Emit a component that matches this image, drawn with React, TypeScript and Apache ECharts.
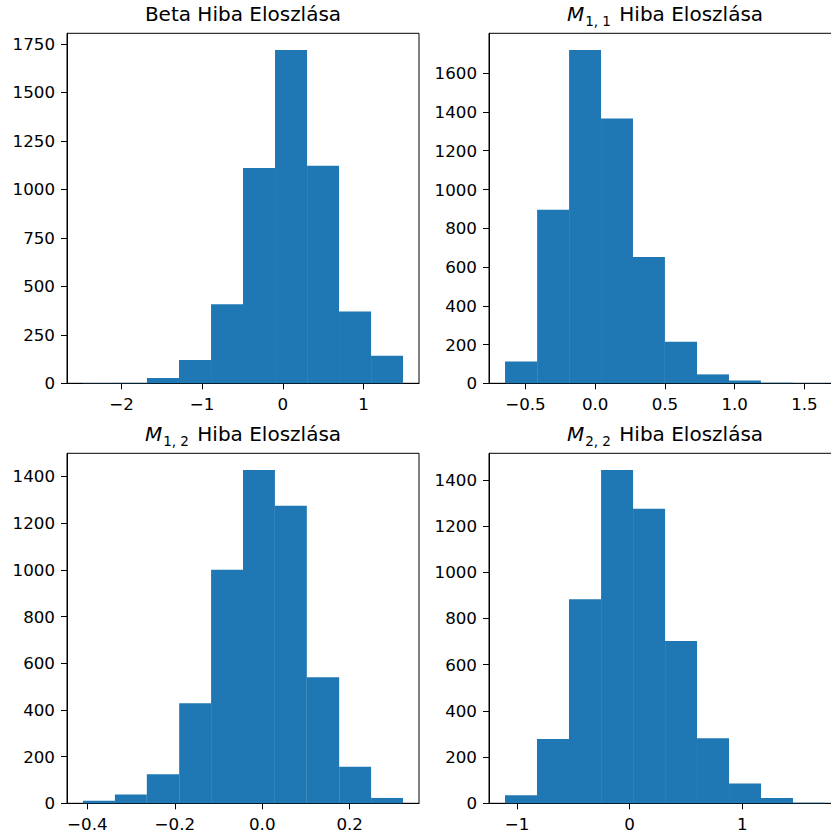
import React, { useEffect, useRef } from 'react';
import * as echarts from 'echarts';

// ---- Data (bin edges and counts, 10 bins each) ----
const betaEdges = [-2.477, -2.080, -1.684, -1.287, -0.890, -0.494, -0.097, 0.300, 0.696, 1.093, 1.489];
const betaCounts = [1, 2, 27, 120, 408, 1110, 1719, 1122, 370, 142];

const m11Edges = [-0.646, -0.416, -0.187, 0.042, 0.271, 0.500, 0.730, 0.959, 1.188, 1.418, 1.647];
const m11Counts = [112, 896, 1720, 1366, 652, 215, 46, 15, 3, 1];

const m12Edges = [-0.410, -0.337, -0.264, -0.190, -0.117, -0.044, 0.029, 0.102, 0.176, 0.249, 0.322];
const m12Counts = [11, 38, 124, 429, 1000, 1428, 1274, 540, 157, 23];

const m22Edges = [-1.107, -0.823, -0.539, -0.254, 0.030, 0.314, 0.598, 0.882, 1.166, 1.450, 1.734];
const m22Counts = [35, 278, 883, 1443, 1275, 703, 282, 86, 23, 2];

const betaXTicks = [-2, -1, 0, 1];
const betaYTicks = [0, 250, 500, 750, 1000, 1250, 1500, 1750];
const m11XTicks = [-0.5, 0, 0.5, 1.0, 1.5];
const m11YTicks = [0, 200, 400, 600, 800, 1000, 1200, 1400, 1600];
const m12XTicks = [-0.4, -0.2, 0, 0.2];
const m12YTicks = [0, 200, 400, 600, 800, 1000, 1200, 1400];
const m22XTicks = [-1, 0, 1];
const m22YTicks = [0, 200, 400, 600, 800, 1000, 1200, 1400];

const titles = [
  '{n|Beta Hiba Eloszlása}',
  '{m|M}{s|1, 1}{n| Hiba Eloszlása}',
  '{m|M}{s|1, 2}{n| Hiba Eloszlása}',
  '{m|M}{s|2, 2}{n| Hiba Eloszlása}',
];

const FONT = 'DejaVu Sans';
const BAR = '#1f77b4';

function toBins(edges: number[], counts: number[]) {
  return counts.map((c, i) => [edges[i], edges[i + 1], c]);
}

const fmt = (dec: number) => (v: number) => {
  const s = dec > 0 ? Number(v).toFixed(dec) : String(Math.round(Number(v)));
  return s.replace('-', '\u2212');
};

export default function App() {
  const ref = useRef<HTMLDivElement>(null);

  useEffect(() => {
    if (!ref.current) return;
    const chart = echarts.init(ref.current, null, { renderer: 'svg' });

    const panels = [
      { edges: betaEdges, counts: betaCounts, xt: betaXTicks, yt: betaYTicks, xmin: -2.675, xmax: 1.687, ymax: 1805, dec: 0, left: 67, top: 33.3 },
      { edges: m11Edges, counts: m11Counts, xt: m11XTicks, yt: m11YTicks, xmin: -0.761, xmax: 1.762, ymax: 1806, dec: 1, left: 489, top: 33.3 },
      { edges: m12Edges, counts: m12Counts, xt: m12XTicks, yt: m12YTicks, xmin: -0.4466, xmax: 0.3586, ymax: 1499, dec: 1, left: 67, top: 453.3 },
      { edges: m22Edges, counts: m22Counts, xt: m22XTicks, yt: m22YTicks, xmin: -1.249, xmax: 1.876, ymax: 1515, dec: 0, left: 489, top: 453.3 },
    ];
    const W = 352;
    const H = 350;

    const labelStyle = { color: '#000', fontFamily: FONT, fontSize: 16.7 };
    const tick = { show: true, inside: false, length: 6, lineStyle: { color: '#000', width: 1 } };

    const option: any = {
      animation: false,
      backgroundColor: '#fff',
      title: panels.map((p, i) => ({
        text: titles[i],
        left: p.left + W / 2,
        top: p.top - 29.3,
        textAlign: 'center',
        padding: 0,
        textStyle: {
          fontFamily: FONT,
          fontWeight: 'normal',
          rich: {
            n: { fontFamily: FONT, fontSize: 20, color: '#000', lineHeight: 24, verticalAlign: 'top' },
            m: { fontFamily: FONT, fontSize: 20, fontStyle: 'italic', color: '#000', lineHeight: 24, verticalAlign: 'top' },
            s: { fontFamily: FONT, fontSize: 13.5, color: '#000', lineHeight: 14, verticalAlign: 'bottom', padding: [0, 2, 0, 1] },
          },
        },
      })),
      grid: panels.map((p) => ({
        left: p.left,
        top: p.top,
        width: W,
        height: H,
        show: true,
        borderColor: '#000',
        borderWidth: 1,
        backgroundColor: '#fff',
        containLabel: false,
      })),
      xAxis: panels.map((p, i) => ({
        type: 'value',
        gridIndex: i,
        min: p.xmin,
        max: p.xmax,
        axisLine: { show: true, onZero: false, lineStyle: { color: '#000', width: 1 } },
        axisTick: { ...tick, customValues: p.xt },
        axisLabel: { ...labelStyle, margin: 12, customValues: p.xt, formatter: fmt(p.dec) },
        splitLine: { show: false },
      })),
      yAxis: panels.map((p, i) => ({
        type: 'value',
        gridIndex: i,
        min: 0,
        max: p.ymax,
        axisLine: { show: true, onZero: false, lineStyle: { color: '#000', width: 1 } },
        axisTick: { ...tick, customValues: p.yt },
        axisLabel: { ...labelStyle, margin: 12, customValues: p.yt, formatter: (v: number) => String(Math.round(Number(v))) },
        splitLine: { show: false },
      })),
      series: panels.map((p, i) => ({
        type: 'custom',
        xAxisIndex: i,
        yAxisIndex: i,
        encode: { x: [0, 1], y: 2 },
        data: toBins(p.edges, p.counts),
        renderItem: (params: any, api: any) => {
          const x0 = api.value(0);
          const x1 = api.value(1);
          const c = api.value(2);
          const a = api.coord([x0, 0]);
          const b = api.coord([x1, c]);
          return {
            type: 'rect',
            shape: { x: a[0], y: b[1], width: b[0] - a[0], height: a[1] - b[1] },
            style: { fill: BAR },
          };
        },
      })),
    };

    chart.setOption(option);
    return () => chart.dispose();
  }, []);

  return (
    <div style={{ position: 'fixed', left: 0, top: 0, width: 831, height: 834, overflow: 'hidden', background: '#fff' }}>
      <div ref={ref} style={{ width: 870, height: 834 }} />
    </div>
  );
}
